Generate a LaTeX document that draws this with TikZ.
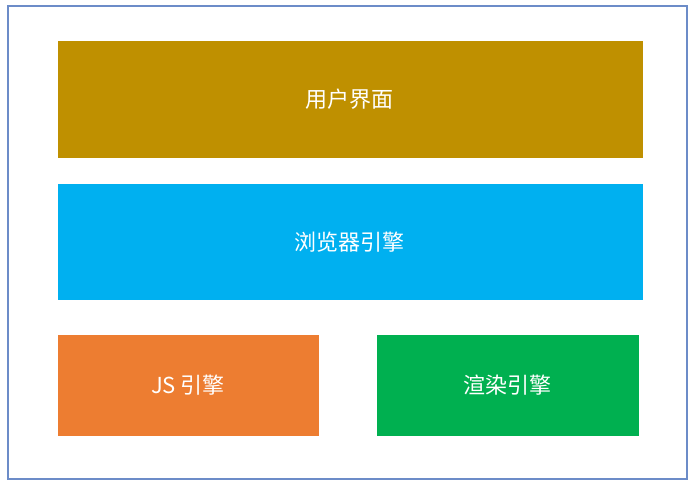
\documentclass[tikz,border=0pt]{standalone}
\usepackage{fontspec}
\newfontfamily\cjk{Noto Sans CJK SC}
\definecolor{frameblue}{HTML}{6C8CC8}
\definecolor{ugold}{HTML}{BF9000}
\definecolor{bblue}{HTML}{00B0F0}
\definecolor{jorange}{HTML}{ED7D31}
\definecolor{rgreen}{HTML}{00B050}
\begin{document}
\begin{tikzpicture}[x=1pt,y=-1pt,
  blk/.style={draw=none,inner sep=0pt,text=white,font=\cjk\fontsize{22}{26}\selectfont}]
\useasboundingbox (0,0) rectangle (699,488);
\fill[white] (0,0) rectangle (699,488);
\draw[frameblue,line width=2pt] (8,6) rectangle (687,479);
\fill[ugold] (58,41) rectangle (643,158);
\node[blk] (ui) at (349,99.5) {用户界面};
\fill[bblue] (58,184) rectangle (643,300);
\node[blk] (be) at (349,242) {浏览器引擎};
\fill[jorange] (58,335) rectangle (319,436);
\node[blk] (js) at (188,385) {JS 引擎};
\fill[rgreen] (377,335) rectangle (639,436);
\node[blk] (re) at (507,385) {渲染引擎};
\end{tikzpicture}
\end{document}
